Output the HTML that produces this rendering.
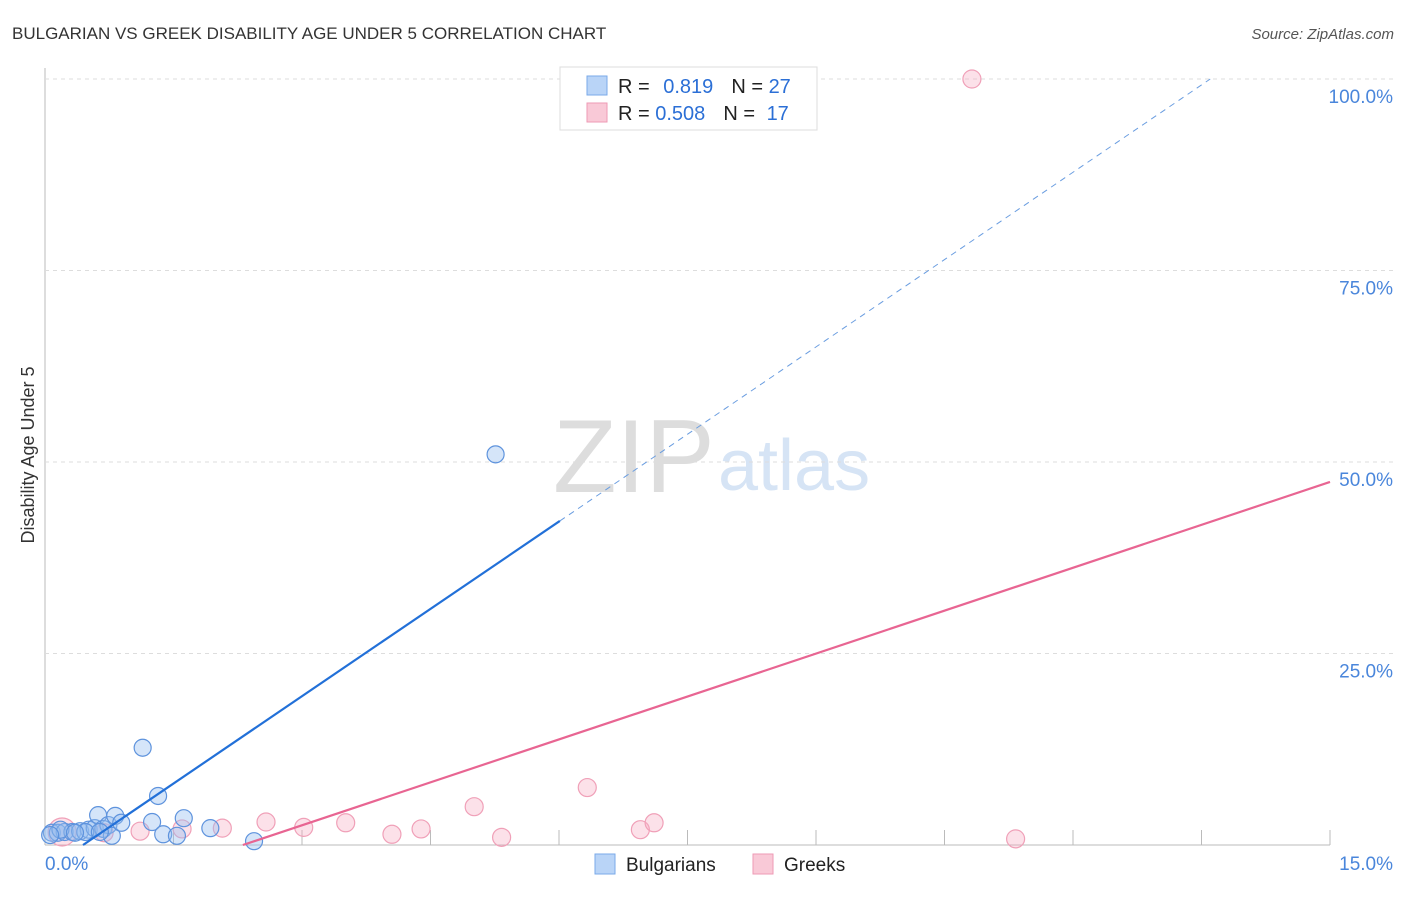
<!DOCTYPE html>
<html><head><meta charset="utf-8"><style>
body{margin:0;background:#fff;font-family:"Liberation Sans",sans-serif;}
svg text{font-family:"Liberation Sans",sans-serif;}
</style></head><body>
<svg id="c" width="1406" height="892">
<text x="12" y="39" font-size="17" fill="#333">BULGARIAN VS GREEK DISABILITY AGE UNDER 5 CORRELATION CHART</text>
<text x="1394" y="39" font-size="15" fill="#555" font-style="italic" text-anchor="end">Source: ZipAtlas.com</text>
<text x="0" y="0" transform="translate(34,455) rotate(-90)" font-size="18" fill="#333" text-anchor="middle">Disability Age Under 5</text>
<text x="553" y="492" font-size="104" fill="#ddd" font-family="Liberation Serif">ZIP</text>
<text x="718" y="490" font-size="72" fill="#d6e4f5">atlas</text>
<g id="grid"></g><g id="marks"></g>
<g>
<rect x="560" y="67" width="257" height="63" fill="#fff" stroke="#ddd"/>
<rect x="587" y="76" width="20" height="19" fill="#b9d4f7" stroke="#7aaae8"/>
<rect x="587" y="103" width="20" height="19" fill="#f9c9d7" stroke="#ee9ab4"/>
<text x="618" y="93" font-size="20" fill="#222">R = <tspan fill="#2b6fd6" dx="8">0.819</tspan><tspan dx="18" fill="#222">N = </tspan><tspan fill="#2b6fd6">27</tspan></text>
<text x="618" y="120" font-size="20" fill="#222">R = <tspan fill="#2b6fd6">0.508</tspan><tspan dx="18" fill="#222">N = </tspan><tspan fill="#2b6fd6" dx="6">17</tspan></text>
</g>
<g>
<rect x="595" y="854" width="20" height="20" fill="#b9d4f7" stroke="#7aaae8"/>
<text x="626" y="871" font-size="19" fill="#222">Bulgarians</text>
<rect x="753" y="854" width="20" height="20" fill="#f9c9d7" stroke="#ee9ab4"/>
<text x="784" y="871" font-size="19" fill="#222">Greeks</text>
</g>
</svg>
<script>
const yTicks=[25,50,75,100];
const yTickLabels=["25.0%","50.0%","75.0%","100.0%"];
const xTicks=[1.5,3,4.5,6,7.5,9,10.5,12,13.5,15];
const bulgX=[0.08,0.15,0.23,0.32,0.41,0.51,0.58,0.62,0.68,0.74,0.82,0.78,0.89,1.14,1.25,1.32,1.38,1.54,1.62,1.93,2.44,5.26,0.18,0.47,0.64,0.35,0.06];
const bulgY=[1.6,1.6,1.7,1.7,1.8,2.0,2.2,3.9,2.1,2.6,3.8,1.2,2.9,12.7,3.0,6.4,1.4,1.2,3.5,2.2,0.5,51.0,2.0,1.7,1.7,1.6,1.3];
const greekX=[0.2,0.69,1.11,1.6,2.07,2.58,3.02,3.51,4.05,4.39,5.01,5.33,6.33,6.95,7.11,10.82,11.33];
const greekY=[1.7,1.6,1.8,2.1,2.2,3.0,2.3,2.9,1.4,2.1,5.0,1.0,7.5,2.0,2.9,100,0.8];
const greekR=[14,9,9,9,9,9,9,9,9,9,9,9,9,9,9,9,9];
const blueFit=[0.444,7.6], pinkFit=[2.31,3.735];
const X=v=>45+v/15*1285, Y=v=>845-v*7.66;
const NS="http://www.w3.org/2000/svg";
const g=document.getElementById('grid'), m=document.getElementById('marks');
function el(t,a,p){const e=document.createElementNS(NS,t);for(const k in a)e.setAttribute(k,a[k]);p.appendChild(e);return e;}
const ax=el('line',{x1:45,y1:68,x2:45,y2:845,stroke:'#bbb'},g);


const bx=el('line',{x1:45,y1:845,x2:1330,y2:845,stroke:'#bbb'},g);


yTicks.forEach((t,i)=>{
 const l=el('line',{x1:45,x2:1395,y1:Y(t),y2:Y(t),stroke:'#ddd','stroke-dasharray':'4,4'},g);
 
 
 const tx=el('text',{x:1393,y:Y(t)+24,'font-size':19,fill:'#4a86db','text-anchor':'end'},g);
 tx.textContent=yTickLabels[i];
 
 
});
xTicks.forEach(t=>{
 const l=el('line',{x1:X(t),x2:X(t),y1:830,y2:845,stroke:'#bbb'},g);
 
 
});
const x0=el('text',{x:45,y:870,'font-size':19,fill:'#4a86db'},g);x0.textContent='0.0%';


const x1=el('text',{x:1393,y:870,'font-size':19,fill:'#4a86db','text-anchor':'end'},g);x1.textContent='15.0%';


greekX.forEach((x,i)=>{
 const c=el('circle',{cx:X(x),cy:Y(greekY[i]),r:greekR[i],fill:'rgba(246,168,192,0.35)',stroke:'#f0a0b8','stroke-width':1.2},m);
 
 
});
bulgX.forEach((x,i)=>{
 const c=el('circle',{cx:X(x),cy:Y(bulgY[i]),r:8.5,fill:'rgba(150,190,240,0.4)',stroke:'#5e93dd','stroke-width':1.2},m);
 
 
});
const bEnd=6.01, bTop=blueFit[0]+100/blueFit[1];
const bl=el('line',{x1:X(blueFit[0]),y1:Y(0),x2:X(bEnd),y2:Y((bEnd-blueFit[0])*blueFit[1]),stroke:'#2270d8','stroke-width':2.2},m);


const bd=el('line',{x1:X(bEnd),y1:Y((bEnd-blueFit[0])*blueFit[1]),x2:X(bTop),y2:Y(100),stroke:'#6a9de0','stroke-width':1,'stroke-dasharray':'6,5'},m);


const pl=el('line',{x1:X(pinkFit[0]),y1:Y(0),x2:X(15),y2:Y((15-pinkFit[0])*pinkFit[1]),stroke:'#e86592','stroke-width':2.2},m);


</script>
</body></html>
